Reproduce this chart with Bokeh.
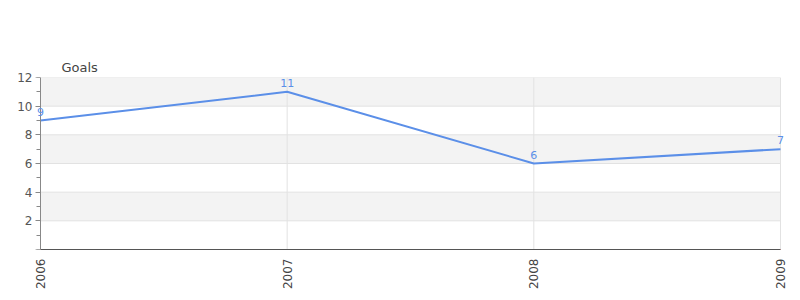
import math
from bokeh.plotting import figure
from bokeh.models import Range1d, FixedTicker, LabelSet, ColumnDataSource, LinearAxis
from bokeh.core.properties import value
from bokeh.embed import file_html
from bokeh.resources import INLINE

years = [2006, 2007, 2008, 2009]
goals = [9, 11, 6, 7]
year_labels = ["2006", "2007", "2008", "2009"]
y_ticks = [0, 2, 4, 6, 8, 10, 12]
title_text = "Goals"

FONT = "DejaVu Sans"
LINE_COLOR = "#5b8fe8"
GRID = "#e2e2e2"
AXIS = "#888888"

# frame is 756 px wide; data spans 740 px of it, leaving 8 px each side for edge labels
PAD_PX = 8
px_per_year = 740 / (years[-1] - years[0])
pad = PAD_PX / px_per_year

p = figure(width=800, height=300, output_backend="svg", toolbar_location=None,
           x_range=Range1d(years[0] - pad, years[-1] + pad),
           y_range=Range1d(y_ticks[0], y_ticks[-1]),
           min_border_left=40 - PAD_PX, min_border_right=20 - PAD_PX,
           min_border_top=77, min_border_bottom=51)
p.background_fill_color = "white"
p.border_fill_color = "white"
p.outline_line_color = None
p.xgrid.grid_line_color = None
p.ygrid.grid_line_color = None

p.title.text = title_text
p.title.align = "left"
p.title.offset = 21 + PAD_PX
p.title.text_font = FONT
p.title.text_font_size = "13px"
p.title.text_font_style = "normal"
p.title.text_color = "#444444"
p.title.standoff = 6

# alternating bands and grid lines, limited to the data span
bands = ColumnDataSource(dict(bottom=y_ticks[1:-1:2], top=y_ticks[2::2]))
p.quad(left=years[0], right=years[-1], bottom="bottom", top="top", source=bands,
       fill_color="#f3f3f3", line_color=None, level="underlay")
p.segment(x0=years[0], x1=years[-1], y0=y_ticks[1:], y1=y_ticks[1:],
          line_color=GRID, line_width=1, level="underlay")
p.segment(x0=years[1:], x1=years[1:], y0=y_ticks[0], y1=y_ticks[-1],
          line_color=GRID, line_width=1, level="underlay")

src = ColumnDataSource(dict(x=years, y=goals, t=[str(g) for g in goals]))
p.line("x", "y", source=src, line_color=LINE_COLOR, line_width=2)
p.add_layout(LabelSet(x="x", y="y", text="t", source=src, text_color=LINE_COLOR,
                      text_font=value(FONT), text_font_size=value("11px"), text_align="center",
                      text_baseline="bottom", y_offset=5))

p.segment(x0=years[0], x1=years[-1], y0=y_ticks[0], y1=y_ticks[0],
          line_color="#e00000", line_width=1)

# x axis
xa = p.xaxis[0]
xa.ticker = FixedTicker(ticks=years)
xa.bounds = (years[0], years[-1])
xa.major_label_overrides = {y: l for y, l in zip(years, year_labels)}
xa.major_label_orientation = math.pi / 2
xa.major_tick_out = 0
xa.major_tick_in = 0
xa.minor_tick_out = 0
xa.axis_line_color = "#555555"
xa.major_label_text_font = FONT
xa.major_label_text_font_size = "12px"
xa.major_label_text_color = "#444444"
xa.major_label_standoff = 9

# y axis labels (at the frame edge)
ya = p.yaxis[0]
ya.ticker = FixedTicker(ticks=y_ticks)
ya.major_label_overrides = {0: ""}
ya.axis_line_color = None
ya.major_tick_line_color = None
ya.minor_tick_line_color = None
ya.major_tick_out = 0
ya.major_tick_in = 0
ya.minor_tick_out = 0
ya.minor_tick_in = 0
ya.major_label_text_font = FONT
ya.major_label_text_font_size = "12px"
ya.major_label_text_color = "#555555"
ya.major_label_standoff = 0

# y axis line and ticks at the first year
yl = LinearAxis(fixed_location=years[0],
                ticker=FixedTicker(ticks=y_ticks,
                                   minor_ticks=list(range(y_ticks[0], y_ticks[-1] + 1))))
yl.major_label_overrides = {t: "" for t in y_ticks}
yl.major_label_text_alpha = 0
yl.major_tick_out = 5
yl.major_tick_in = 0
yl.minor_tick_out = 4
yl.minor_tick_in = 0
yl.axis_line_color = AXIS
yl.major_tick_line_color = AXIS
yl.minor_tick_line_color = AXIS
p.add_layout(yl, "left")

open("out.html", "w").write(file_html(p, INLINE))
